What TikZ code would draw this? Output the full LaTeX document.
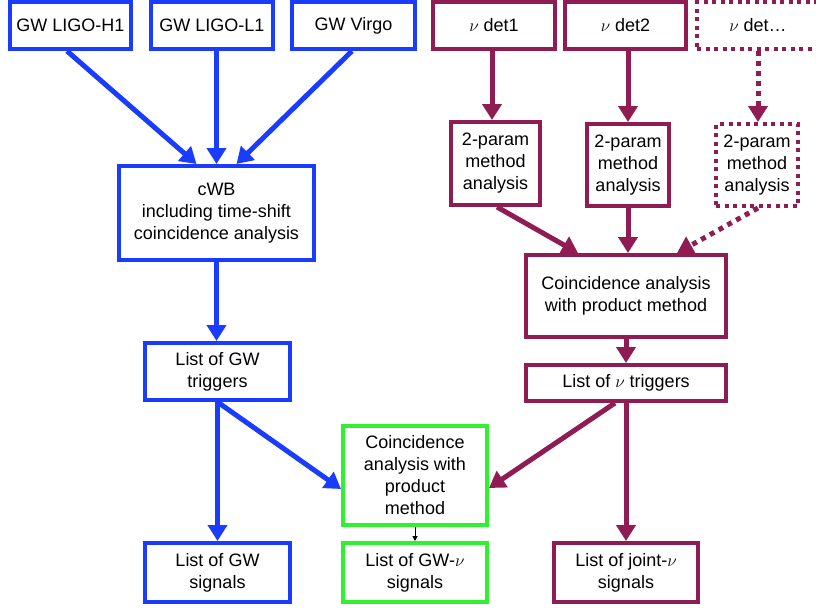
\documentclass[tikz,border=0pt]{standalone}
\usepackage{fontspec}
\setmainfont{Liberation Sans}
\usetikzlibrary{arrows.meta,calc}
\definecolor{gwblue}{HTML}{1A3CFF}
\definecolor{numaroon}{HTML}{8F1D53}
\definecolor{cgreen}{HTML}{2EF22E}
\begin{document}
\begin{tikzpicture}[x=1pt,y=-1pt,
  box/.style={draw, line width=4pt, fill=white, align=center, inner sep=0pt, font=\fontsize{18}{22}\selectfont},
  bbox/.style={box, draw=gwblue},
  mbox/.style={box, draw=numaroon},
  dbox/.style={box, draw=numaroon, dash pattern=on 4pt off 4.5pt},
  gbox/.style={box, draw=cgreen},
  arr/.style={line width=5pt, -{Triangle[width=19pt,length=16pt]}},
  barr/.style={arr, draw=gwblue},
  marr/.style={arr, draw=numaroon},
  darr/.style={arr, draw=numaroon, dash pattern=on 5pt off 5pt},
  karr/.style={line width=1pt, black, -{Triangle[width=5pt,length=5pt]}}
]
\useasboundingbox (0,0) rectangle (816,608);
% GW side
\node[bbox, minimum width=121pt, minimum height=47pt] (H1) at (70.5,25.5) {GW LIGO-H1};
\node[bbox, minimum width=122pt, minimum height=47pt] (L1) at (212,25.5) {GW LIGO-L1};
\node[bbox, minimum width=123pt, minimum height=47pt] (Virgo) at (353.5,25.5) {GW Virgo};
\node[bbox, minimum width=195pt, minimum height=94pt] (cwb) at (216.5,213) {cWB\\including time-shift\\coincidence analysis};
\node[bbox, minimum width=145pt, minimum height=57pt] (gwtrig) at (217.5,371.5) {List of GW\\triggers};
\node[bbox, minimum width=145pt, minimum height=59pt] (gwsig) at (217.5,572.5) {List of GW\\signals};
% neutrino side
\node[mbox, minimum width=122pt, minimum height=47pt] (det1) at (494,25.5) {$\nu$ det1};
\node[mbox, minimum width=121pt, minimum height=47pt] (det2) at (625.5,25.5) {$\nu$ det2};
\node[dbox, minimum width=122pt, minimum height=47pt] (detd) at (758,25.5) {$\nu$ det\dots};
\node[mbox, minimum width=89pt, minimum height=83pt] (p1) at (495.5,163.5) {2-param\\method\\analysis};
\node[mbox, minimum width=82pt, minimum height=82pt] (p2) at (628,165) {2-param\\method\\analysis};
\node[dbox, minimum width=82pt, minimum height=82pt] (p3) at (757,165) {2-param\\method\\analysis};
\node[mbox, minimum width=200pt, minimum height=82pt] (coinc) at (626,296) {Coincidence analysis\\with product method};
\node[mbox, minimum width=200pt, minimum height=36pt] (nutrig) at (626,383) {List of $\nu$ triggers};
\node[mbox, minimum width=144pt, minimum height=59pt] (joint) at (626,572.5) {List of joint-$\nu$\\signals};
% joint
\node[gbox, minimum width=144pt, minimum height=99pt] (green) at (415,475.5) {Coincidence\\analysis with\\product\\method};
\node[gbox, minimum width=144pt, minimum height=59pt] (gwnusig) at (415,572.5) {List of GW-$\nu$\\signals};
% GW arrows
\draw[barr] ($(H1.south)+(-3.5,0)$) -- ($(cwb.north)+(-20,0)$);
\draw[barr] (cwb.north |- L1.south) -- (cwb.north);
\draw[barr] ($(Virgo.south)+(-1.5,0)$) -- ($(cwb.north)+(20,0)$);
\draw[barr] (cwb.south) -- (cwb.south |- gwtrig.north);
\draw[barr] (gwtrig.south) -- ($(green.west)+(0,13.5)$);
\draw[barr] (gwtrig.south) -- (gwsig.north);
% neutrino arrows
\draw[marr] ($(det1.south)+(-2,0)$) -- ($(p1.north)+(-3.5,0)$);
\draw[marr] (det2.south -| p2.north) -- (p2.north);
\draw[darr] (detd.south) -- (detd.south |- p3.north);
\draw[marr] ($(p1.south)+(1.5,0)$) -- ($(coinc.north)+(-48,0)$);
\draw[marr] (p2.south) -- (p2.south |- coinc.north);
\draw[darr] ($(p3.south)+(1,0)$) -- ($(coinc.north)+(51,0)$);
\draw[marr] (coinc.south) -- (nutrig.north);
\draw[marr] ($(nutrig.south)+(-11,0)$) -- ($(green.east)+(0,12.5)$);
\draw[marr] (nutrig.south) -- (joint.north);
\draw[karr] (green.south) -- (gwnusig.north);
\end{tikzpicture}
\end{document}
